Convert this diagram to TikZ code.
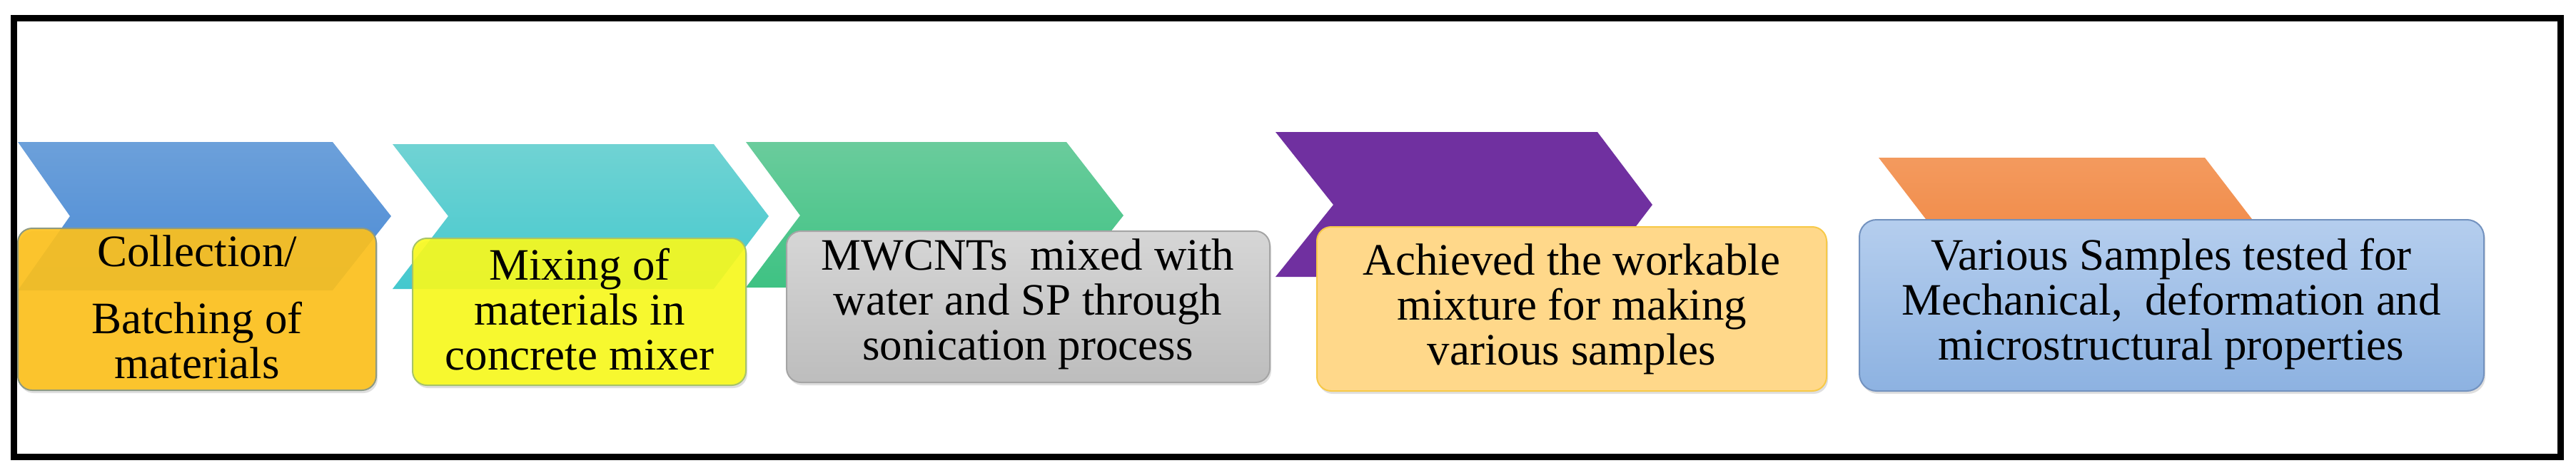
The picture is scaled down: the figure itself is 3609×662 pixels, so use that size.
\documentclass[tikz,border=0pt]{standalone}
\usepackage{fontspec}
\newfontfamily\tnr{Liberation Serif}
\usetikzlibrary{shadows}
\definecolor{bluet}{HTML}{6CA0DA}\definecolor{blueb}{HTML}{4A8AD5}
\definecolor{cyant}{HTML}{70D3D3}\definecolor{cyanb}{HTML}{44C8CE}
\definecolor{greent}{HTML}{6ACC9C}\definecolor{greenb}{HTML}{3EC283}
\definecolor{purp}{HTML}{7030A0}
\definecolor{orat}{HTML}{F39A5E}\definecolor{orab}{HTML}{F07F38}
\definecolor{gold}{HTML}{FFC21A}\definecolor{goldd}{HTML}{8E9A82}
\definecolor{yel}{HTML}{FAFB1C}\definecolor{yeld}{HTML}{A7C36A}
\definecolor{grt}{HTML}{D6D6D6}\definecolor{grb}{HTML}{BDBDBD}\definecolor{grd}{HTML}{A5A5A5}
\definecolor{peach}{HTML}{FFD88A}\definecolor{peachd}{HTML}{F7C948}
\definecolor{lbt}{HTML}{B5CEEE}\definecolor{lbb}{HTML}{8DB2E1}\definecolor{lbd}{HTML}{7392BF}
\newcommand\mychev[8]{\path[#8] (#1,#5) -- (#3,#5) -- (#4,#6) -- (#3,#7) -- (#1,#7) -- (#2,#6) -- cycle;}
\begin{document}
\begin{tikzpicture}[x=1pt,y=-1pt,
  stepbox/.style={rectangle, rounded corners=20pt, line width=2pt, inner sep=0pt,
    drop shadow={shadow xshift=2pt, shadow yshift=-4pt, opacity=0.25}},
  txt/.style={font=\tnr\fontsize{63}{63}\selectfont, align=center, anchor=base, inner sep=0pt}]
\useasboundingbox (0,0) rectangle (3609,662);
\fill[white] (0,0) rectangle (3609,662);
% chevrons
\mychev{25}{98}{466}{548}{199}{303}{407}{top color=bluet, bottom color=blueb}
\mychev{550}{628}{1000}{1077}{202}{303}{405}{top color=cyant, bottom color=cyanb}
\mychev{1045}{1121}{1494}{1574}{199}{302}{403}{top color=greent, bottom color=greenb}
\mychev{1787}{1868}{2238}{2315}{185}{287}{388}{fill=purp}
\mychev{2632}{2711}{3089}{3168}{221}{324}{427}{top color=orat, bottom color=orab}
% boxes
\node[stepbox, fill=gold, fill opacity=0.9, draw=goldd, minimum width=502pt, minimum height=227pt] (b1) at (276,433.5) {};
\node[stepbox, fill=yel, fill opacity=0.9, draw=yeld, minimum width=467pt, minimum height=206pt] (b2) at (811.5,437) {};
\node[stepbox, top color=grt, bottom color=grb, draw=grd, minimum width=677pt, minimum height=212pt] (b3) at (1440.5,430) {};
\node[stepbox, fill=peach, draw=peachd, minimum width=714pt, minimum height=230pt] (b4) at (2202,433) {};
\node[stepbox, rounded corners=24pt, top color=lbt, bottom color=lbb, draw=lbd, minimum width=875pt, minimum height=240pt] (b5) at (3042.5,428) {};
% texts (anchor = baseline of last line)
\node[txt] (t1) at (276,530) {Collection/\\[31pt]Batching of\\materials};
\node[txt] (t2) at (812,518) {Mixing of\\materials in\\concrete mixer};
\node[txt] (t3) at (1440,504) {MWCNTs\ \ mixed with\\water and SP through\\sonication process};
\node[txt] (t4) at (2202,511) {Achieved the workable\\mixture for making\\various samples};
\node[txt] (t5) at (3042,504) {Various Samples tested for\\Mechanical,\ \ deformation and\\microstructural properties};
% frame
\draw[line width=9pt] (19,25.5) rectangle (3587,640);
\end{tikzpicture}
\end{document}
